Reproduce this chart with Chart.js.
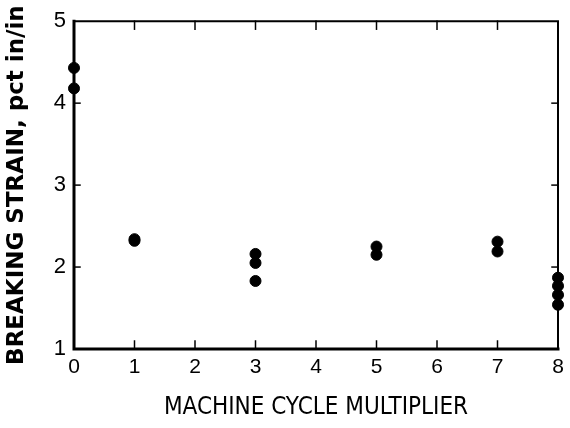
<!DOCTYPE html>
<html>
<head>
<meta charset="utf-8">
<script src="https://cdn.jsdelivr.net/npm/chart.js@4/dist/chart.umd.min.js"></script>
<style>
html,body{margin:0;padding:0;background:#fff;}
#wrap{width:570px;height:428px;}
</style>
</head>
<body>
<div id="wrap"><canvas id="c" width="570" height="428"></canvas></div>
<script>
// Machine cycle multiplier (x) and breaking strain, pct in/in (y)
const multiplier = [0, 0, 1, 1, 3, 3, 3, 5, 5, 7, 7, 8, 8, 8, 8];
const breakingStrain = [4.43, 4.18, 2.34, 2.32, 2.16, 2.05, 1.83, 2.25, 2.15, 2.31, 2.19, 1.87, 1.77, 1.66, 1.54];
const xTicks = [0, 1, 2, 3, 4, 5, 6, 7, 8];
const yTicks = [1, 2, 3, 4, 5];
const xTitle = 'MACHINE CYCLE MULTIPLIER';
const yTitle = 'BREAKING STRAIN, pct in/in';

const points = multiplier.map((m, i) => ({x: m, y: breakingStrain[i]}));

const framePlugin = {
  id: 'frame',
  afterDraw(chart) {
    const {ctx, chartArea: a, scales: {x, y}} = chart;
    ctx.save();
    ctx.strokeStyle = '#000';
    ctx.lineCap = 'square';
    ctx.lineWidth = 3;
    ctx.beginPath();
    ctx.moveTo(a.left, a.top); ctx.lineTo(a.left, a.bottom); ctx.lineTo(a.right, a.bottom);
    ctx.stroke();
    ctx.lineWidth = 2;
    ctx.beginPath();
    ctx.moveTo(a.left, a.top); ctx.lineTo(a.right, a.top); ctx.lineTo(a.right, a.bottom);
    ctx.stroke();
    ctx.lineWidth = 1.5;
    const L = 8;
    xTicks.slice(1, -1).forEach(v => {
      const px = x.getPixelForValue(v);
      ctx.beginPath(); ctx.moveTo(px, a.bottom); ctx.lineTo(px, a.bottom - L); ctx.stroke();
      ctx.beginPath(); ctx.moveTo(px, a.top); ctx.lineTo(px, a.top + L); ctx.stroke();
    });
    yTicks.slice(1, -1).forEach(v => {
      const py = y.getPixelForValue(v);
      ctx.beginPath(); ctx.moveTo(a.left, py); ctx.lineTo(a.left + 6, py); ctx.stroke();
      ctx.beginPath(); ctx.moveTo(a.right, py); ctx.lineTo(a.right - 6, py); ctx.stroke();
    });
    ctx.restore();
  }
};

new Chart(document.getElementById('c'), {
  type: 'scatter',
  data: {
    datasets: [{
      data: points,
      backgroundColor: '#000',
      borderColor: '#000',
      pointRadius: 5.5,
      pointHoverRadius: 5.5,
      clip: false
    }]
  },
  options: {
    responsive: false,
    animation: false,
    events: [],
    layout: {padding: {left: 0, right: 12, top: 14, bottom: 0}},
    plugins: {legend: {display: false}, tooltip: {enabled: false}},
    scales: {
      x: {
        type: 'linear', min: 0, max: 8,
        afterBuildTicks: s => { s.ticks = xTicks.map(v => ({value: v})); },
        afterFit: s => { s.height = 428 - 349; },
        grid: {display: false, drawTicks: false},
        border: {display: false},
        ticks: {color: '#000', padding: 6, font: {family: 'Liberation Sans', size: 21}},
        title: {display: true, text: xTitle, color: '#000', padding: {top: 8, bottom: 6},
                font: {family: "'Liberation Sans Narrow', 'DejaVu Sans Condensed', sans-serif", size: 24}}
      },
      y: {
        type: 'linear', min: 1, max: 5,
        afterBuildTicks: s => { s.ticks = yTicks.map(v => ({value: v})); },
        afterFit: s => { s.width = 74; },
        grid: {display: false, drawTicks: false},
        border: {display: false},
        ticks: {color: '#000', padding: 8, font: {family: 'Liberation Sans', size: 22}},
        title: {display: true, text: yTitle, color: '#000', padding: {top: 3, bottom: 0},
                font: {family: 'DejaVu Sans', size: 23, weight: 'bold'}}
      }
    }
  },
  plugins: [framePlugin]
});
</script>
</body>
</html>
